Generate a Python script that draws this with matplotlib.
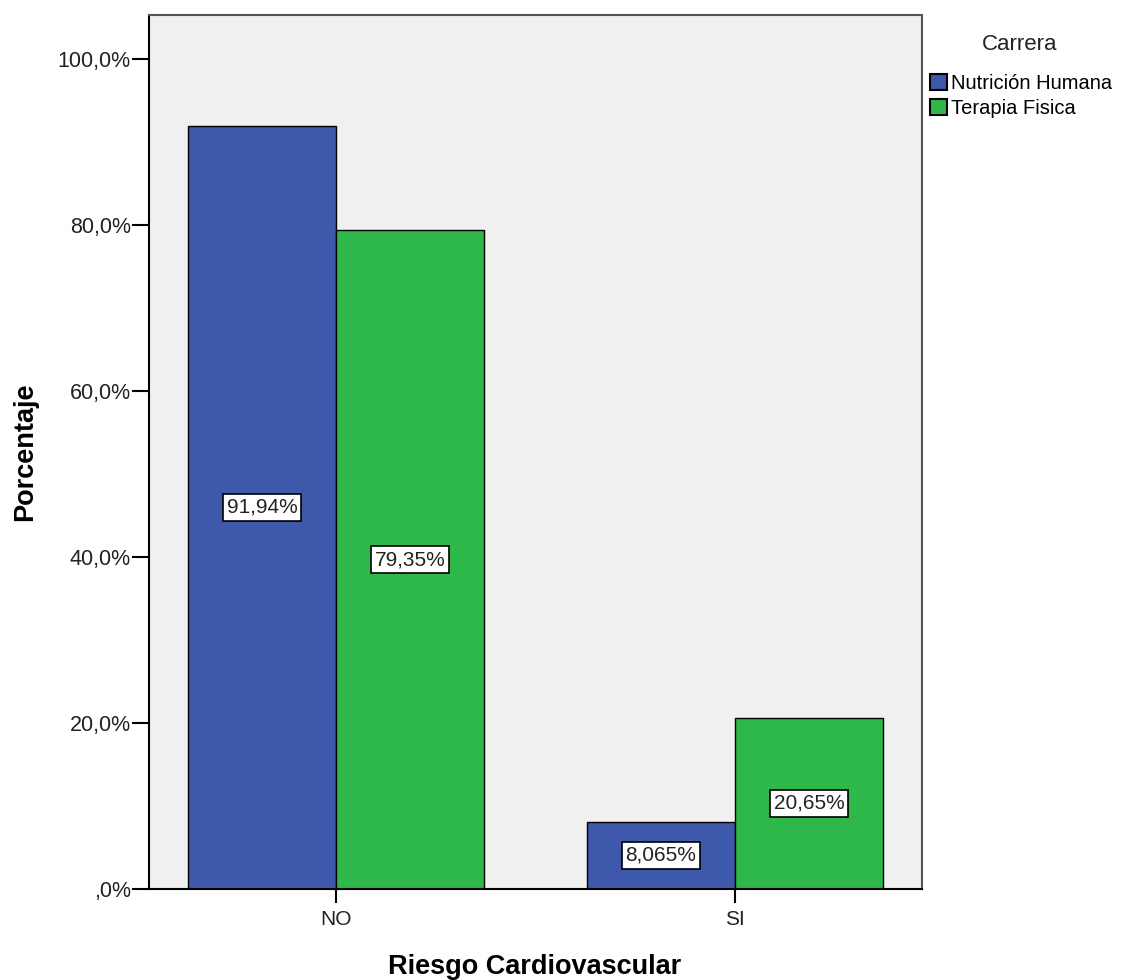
import matplotlib
matplotlib.use("Agg")
import matplotlib.pyplot as plt
import numpy as np

plt.rcParams['font.family'] = ['Liberation Sans', 'DejaVu Sans']

categories = ["NO", "SI"]
series_names = ["Nutrición Humana", "Terapia Fisica"]
nutricion = [91.94, 8.065]
terapia = [79.35, 20.65]
value_labels = [["91,94%", "8,065%"], ["79,35%", "20,65%"]]
yticks = [0, 20, 40, 60, 80, 100]
ytick_labels = [",0%", "20,0%", "40,0%", "60,0%", "80,0%", "100,0%"]

colors = ["#3E58AC", "#2FB84A"]
width = 0.371
W, H = 1136, 980

fig = plt.figure(figsize=(11.36, 9.8), dpi=100)
ax = fig.add_axes([0.1312, 0.0929, 0.6804, 0.8918])
ax.set_facecolor("#F0F0F0")

x = np.arange(len(categories))
series = [nutricion, terapia]
for i, (vals, name) in enumerate(zip(series, series_names)):
    off = (i - 0.5) * width
    bars = ax.bar(x + off, vals, width, color=colors[i], edgecolor="black",
                  linewidth=1, label=name, zorder=2)
    for b, lab in zip(bars, value_labels[i]):
        ax.text(b.get_x() + b.get_width() / 2, b.get_height() / 2, lab,
                ha="center", va="center", fontsize=15, color="#222222", zorder=3,
                bbox=dict(boxstyle="square,pad=0.18", fc="white", ec="black", lw=1.2))

ax.set_xlim(-0.469, 1.469)
ax.set_ylim(0, 105.3)
ax.set_xticks(x)
ax.set_xticklabels(categories, fontsize=15, color="#222222")
ax.set_yticks(yticks)
ax.set_yticklabels(ytick_labels, fontsize=15.5, color="#222222")
ax.tick_params(axis="y", length=12, width=1.5, pad=1)
ax.tick_params(axis="x", length=10, width=1.5, pad=5)

for s in ("left", "bottom"):
    ax.spines[s].set_color("black")
    ax.spines[s].set_linewidth(1.5)
for s in ("top", "right"):
    ax.spines[s].set_color("#555555")
    ax.spines[s].set_linewidth(1.5)

# axis titles placed in figure pixels
fig.text(25 / W, 1 - 452 / H, "Porcentaje", rotation=90, ha="center", va="center",
         fontsize=19.5, fontweight="bold")
fig.text(535 / W, 1 - 967 / H, "Riesgo Cardiovascular", ha="center", va="center",
         fontsize=19.5, fontweight="bold")

fig.text(1020 / W, 1 - 44 / H, "Carrera", ha="center", va="center", fontsize=16, color="#222222")
leg = ax.legend(loc="upper left", bbox_to_anchor=(0.806, 0.939), bbox_transform=fig.transFigure,
                frameon=False, fontsize=14.5,
                handlelength=0.85, handleheight=0.85, handletextpad=0.2, labelspacing=0.3,
                borderpad=0.2)
for h in leg.legend_handles:
    h.set_linewidth(1.5)

fig.savefig("out.png", dpi=100)
